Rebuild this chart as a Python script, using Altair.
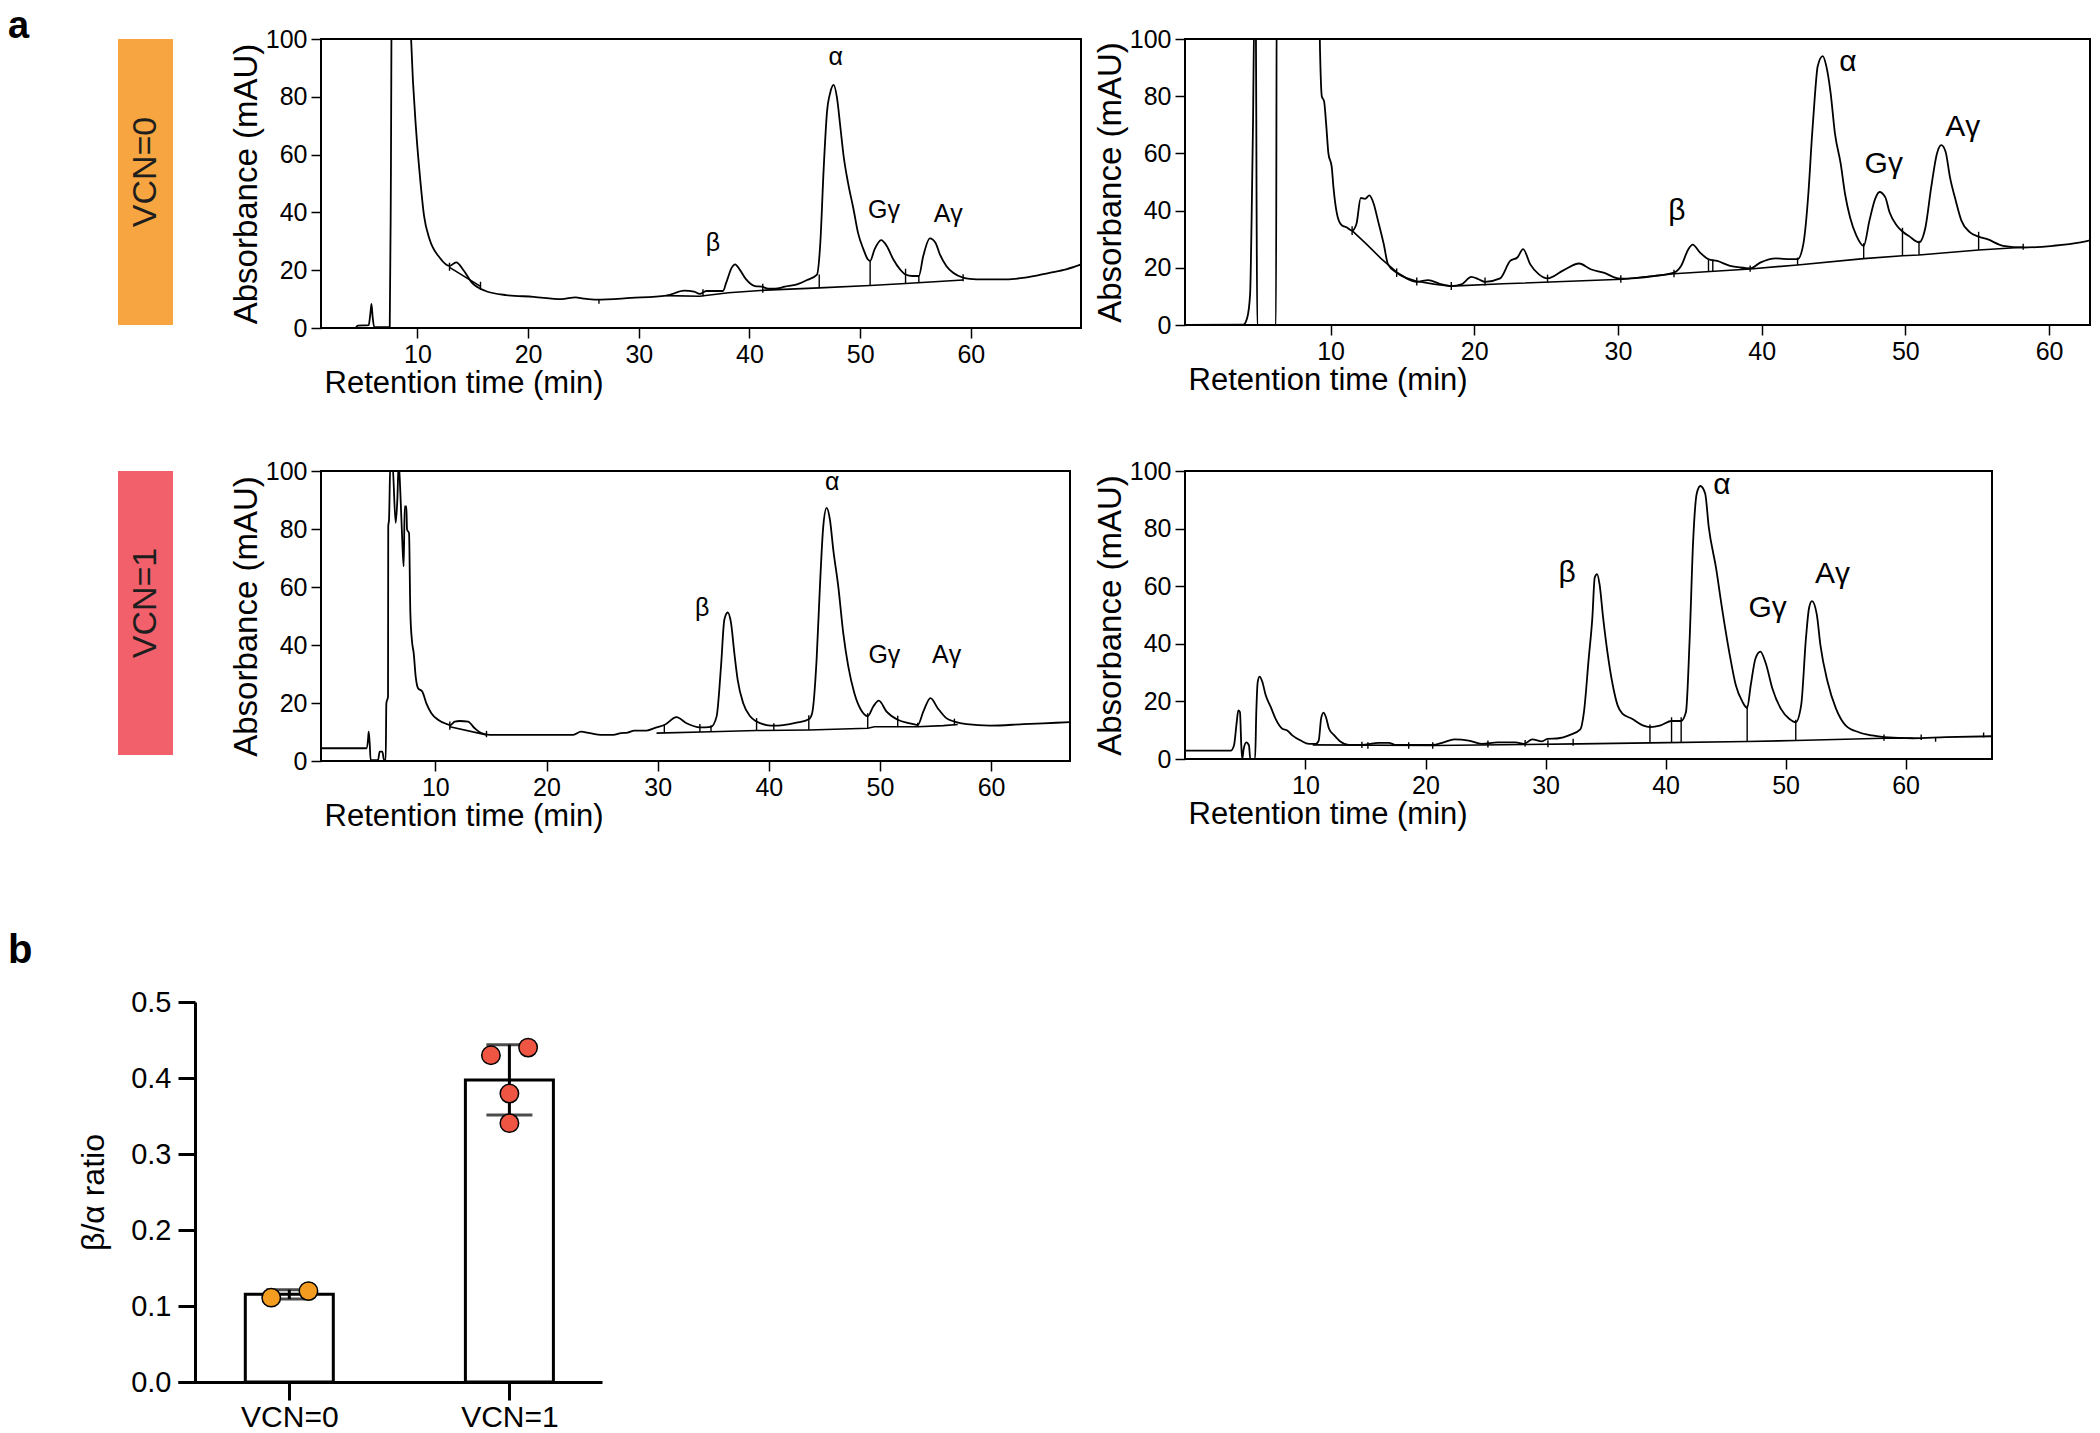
import altair as alt
import pandas as pd

FONT = "Liberation Sans"
ORANGE_BOX = "#F7A541"
RED_BOX = "#F2616B"
ORANGE_PT = "#F39C1F"
RED_PT = "#EE5542"

# ---------------- Panel a, top-left (VCN=0, sample 1) ----------------
P1_TRACE = [(1.29,0),(4.4,0),(4.6,0.8),(5.6,1.0),(5.75,5.0),(5.85,8.3),(5.95,4.0),(6.1,0.3),(7.5,0.3),(7.6,48.6),(7.7,130),(9.2,130),(9.43,100),(9.9,67.5),(10.2,53.7),(10.6,38.8),(11.1,30.7),(12.0,24.4),(12.9,21.5),(13.5,22.7),(14.2,19.8),(14.9,15.8),(16.1,12.9),(18.0,11.4),(20.5,10.8),(23.0,10.0),(24.3,10.6),(25.0,10.2),(26.2,9.8),(29.3,10.4),(32.5,11.2),(34.1,12.9),(35.0,12.6),(35.5,11.8),(36.1,12.8),(37.6,12.8),(37.9,15.7),(38.4,20.9),(38.7,22.0),(39.1,20.3),(39.7,16.8),(40.5,14.5),(41.1,14.3),(41.7,13.6),(42.3,13.6),(43.2,14.3),(44.3,15.1),(45.2,16.6),(46.1,18.5),(46.4,29.5),(46.7,54.9),(47.0,74.6),(47.3,81.5),(47.6,84.1),(47.9,79.8),(48.2,69.9),(48.5,59.6),(48.9,50.3),(49.4,41.1),(49.8,33.0),(50.3,27.2),(50.7,23.7),(50.9,23.2),(51.3,27.2),(51.9,30.4),(52.4,28.4),(53.0,23.7),(53.6,20.3),(54.1,18.5),(54.7,18.0),(55.3,18.0),(55.7,24.9),(56.3,31.0),(56.8,29.5),(57.2,25.5),(57.8,21.4),(58.4,19.1),(59.3,17.4),(59.9,17.0),(61.1,16.8),(62.6,16.8),(64.9,17.4),(67.1,19.1),(68.6,20.3),(69.95,22.0)]
P1_BASE = [(0,12.9,21.0),(0,15.7,14.4),(1,32.5,11.2),(1,35.5,11.0),(1,38.1,12.2),(1,41.5,13.1),(1,46.3,13.9),(1,50.9,14.7),(1,54.1,15.4),(1,59.3,16.6)]
P1_DROPS = [(12.9,19.8,22.6),(15.7,13.2,16.0),(26.4,8.4,10.0),(35.8,11.0,13.4),(41.2,12.2,15.3),(46.3,13.9,18.5),(50.9,14.7,23.2),(54.1,15.4,20.5),(55.3,15.7,18.2),(59.3,16.2,18.6)]
P1_LABELS = [("β",36.7,29.5),("α",47.8,93.6),("Gγ",52.15,40.7),("Aγ",57.96,39.3)]

# ---------------- Panel a, top-right (VCN=0, sample 2) ----------------
P2_TRACE = [(-0.13,0),(3.93,0.1),(4.2,2.5),(4.4,10.7),(4.5,35.3),(4.6,69.4),(4.7,110),(4.8,110),(4.85,43.7),(4.9,0),(6.2,0),(6.26,130),(9.15,130),(9.27,95.2),(9.39,80),(9.55,78.2),(9.69,70.5),(9.85,60),(10.08,55.3),(10.2,48.2),(10.3,43.6),(10.5,37.7),(10.8,34.8),(11.1,34.2),(11.5,33.0),(11.8,35.3),(12.1,44.4),(12.4,44.1),(12.7,45.3),(13.0,42.4),(13.3,36.5),(13.7,28.3),(14.0,21.2),(14.6,18.3),(15.1,16.8),(16.0,15.1),(16.8,15.7),(17.6,14.4),(18.4,13.6),(19.1,14.2),(19.8,16.8),(20.3,16.0),(20.75,15.1),(21.8,16.3),(22.5,22.4),(23.0,23.6),(23.4,26.5),(23.9,21.2),(24.5,17.7),(25.1,16.3),(26.2,19.1),(27.3,21.5),(28.1,19.5),(29.0,18.3),(30.15,16.2),(32.5,17.1),(33.9,18.3),(34.4,20.7),(34.9,26.5),(35.2,28.1),(35.7,25.4),(36.3,23.0),(36.9,22.4),(37.8,20.7),(38.5,20.1),(39.2,19.8),(39.9,21.8),(41.0,23.3),(42.0,23.0),(42.5,23.0),(42.9,28.3),(43.25,45.9),(43.5,65.8),(43.7,79.9),(43.9,90.5),(44.25,94.0),(44.5,90.5),(44.8,81.1),(45.1,67.0),(45.5,56.4),(45.8,45.9),(46.15,37.7),(46.6,31.2),(47.1,27.7),(47.5,36.5),(47.9,44.1),(48.2,46.5),(48.6,44.7),(48.9,39.4),(49.4,34.8),(49.8,32.7),(50.3,30.9),(50.95,28.9),(51.4,34.2),(51.8,48.2),(52.2,60.0),(52.5,62.9),(52.8,60.6),(53.1,51.8),(53.5,43.6),(53.9,36.5),(54.5,32.4),(55.1,30.9),(55.7,30.0),(56.8,27.7),(58.2,27.1),(60.3,27.7),(62.2,28.9),(62.85,29.6)]
P2_BASE = [(0,11.5,33.0),(0,12.5,28.3),(0,13.5,23.3),(0,14.6,18.5),(0,15.3,16.4),(0,16.0,15.3),(0,17.2,14.3),(0,18.4,13.6),(0,22.0,14.4),(0,30.3,16.0),(0,33.9,17.9),(0,39.2,19.6),(0,42.5,21.0),(0,47.1,23.2),(0,49.8,24.2),(0,50.95,24.5),(0,55.1,26.2),(0,58.2,27.2)]
P2_DROPS = [(11.5,31.5,34.5),(14.6,16.8,19.8),(16.0,13.8,16.6),(18.4,12.2,15.0),(20.75,13.8,16.6),(25.1,14.8,17.6),(30.2,14.8,17.4),(33.9,16.7,19.3),(36.3,18.6,23.2),(36.6,18.7,22.9),(39.2,18.6,20.8),(42.5,21.0,23.6),(47.1,23.2,28.6),(49.8,24.2,34.0),(50.95,24.5,29.5),(55.1,26.2,32.6),(58.2,26.3,28.4)]
P2_LABELS = [("β",34.1,40.0),("α",46.0,91.9),("Gγ",48.5,56.4),("Aγ",54.0,69.4)]

# ---------------- Panel a, bottom-left (VCN=1, sample 1) ----------------
P3_TRACE = [(-0.29,4.4),(3.79,4.4),(3.94,7.3),(4.0,10.1),(4.09,6.1),(4.18,0.3),(4.84,0.3),(4.99,3.2),(5.23,3.2),(5.38,0.3),(5.53,0.3),(5.59,19.9),(5.74,22.2),(5.76,80.9),(5.83,83.2),(5.95,103),(6.13,103),(6.43,82.1),(6.58,90.2),(6.7,103),(6.85,92.5),(7.03,75.2),(7.15,67.1),(7.24,87.8),(7.39,87.8),(7.45,79.8),(7.63,78.6),(7.75,51.0),(7.9,41.2),(8.05,37.2),(8.23,29.1),(8.44,25.1),(8.83,23.9),(9.19,19.9),(9.64,16.5),(10.24,14.2),(10.99,12.8),(11.35,12.4),(11.74,13.6),(12.19,13.8),(12.94,13.6),(13.54,11.3),(14.14,9.6),(14.89,9.0),(22.4,9.0),(23.1,10.1),(23.9,9.6),(24.9,9.0),(26.0,9.0),(26.7,9.6),(27.3,9.8),(27.9,10.5),(29.0,10.5),(29.9,11.6),(30.6,12.4),(31.7,15.1),(32.6,13.0),(33.8,11.6),(34.8,11.8),(35.3,15.3),(35.7,32.6),(36.0,48.7),(36.3,51.2),(36.6,47.6),(36.9,37.2),(37.2,28.0),(37.7,19.9),(38.3,15.5),(38.9,13.6),(39.8,12.4),(40.45,12.2),(41.3,12.4),(42.5,13.2),(43.6,14.4),(43.9,16.5),(44.3,34.9),(44.6,60.2),(44.9,80.9),(45.2,87.3),(45.5,83.2),(45.8,72.9),(46.25,60.2),(46.7,44.1),(47.15,32.6),(47.7,23.4),(48.3,17.6),(48.9,15.5),(49.4,18.8),(49.9,20.8),(50.6,17.0),(51.6,14.2),(52.7,13.0),(53.4,12.4),(53.9,17.0),(54.55,21.7),(55.2,18.2),(56.0,14.7),(56.7,13.6),(57.8,12.7),(59.9,12.2),(62.9,12.7),(64.7,13.0),(67.1,13.4)]
P3_BASE = [(0,11.3,11.8),(0,14.6,9.0),(1,29.9,9.6),(1,34.8,10.1),(1,38.9,10.5),(1,43.6,10.7),(1,48.9,11.3),(1,49.5,11.8),(1,53.4,11.8),(1,55.7,12.2),(1,57.0,12.6)]
P3_DROPS = [(11.3,10.8,13.6),(14.6,8.2,10.4),(30.6,9.7,12.6),(33.8,10.0,12.8),(34.8,10.1,12.3),(38.9,10.5,14.8),(40.45,10.6,13.0),(43.6,10.7,15.8),(48.9,11.3,16.5),(51.6,11.8,15.6),(53.4,11.8,13.2),(56.7,12.3,14.6)]
P3_LABELS = [("β",34.0,52.7),("α",45.7,96.1),("Gγ",50.4,36.6),("Aγ",56.0,36.6)]

# ---------------- Panel a, bottom-right (VCN=1, sample 2) ----------------
P4_TRACE = [(-0.04,2.9),(3.77,2.9),(4.04,4.7),(4.27,12.8),(4.4,16.9),(4.54,16.3),(4.65,4.7),(4.73,0),(4.85,3.5),(5.07,5.8),(5.29,4.7),(5.4,0),(5.8,0),(5.9,16.3),(6.02,26.8),(6.18,28.6),(6.4,26.8),(6.68,22.2),(7.1,18.1),(7.5,14.0),(8.07,10.5),(8.48,9.9),(8.9,8.2),(9.6,6.4),(10.3,5.25),(10.85,5.25),(11.1,6.4),(11.3,14.0),(11.5,16.1),(11.7,14.6),(11.96,10.5),(12.4,8.2),(12.9,6.1),(13.6,4.9),(14.7,4.9),(16.1,5.6),(16.95,5.6),(17.5,4.9),(20.6,4.9),(21.5,5.8),(22.4,6.8),(23.6,6.4),(24.7,5.25),(26.0,5.8),(27.5,5.8),(28.2,5.25),(28.9,6.8),(29.7,6.1),(30.15,7.0),(31.1,7.2),(31.95,8.2),(32.9,10.3),(33.2,16.3),(33.6,35.0),(33.9,49.0),(34.1,63.0),(34.3,64.2),(34.5,60.7),(34.8,49.0),(35.15,37.3),(35.6,25.7),(36.0,18.7),(36.4,15.75),(37.2,14.0),(38.1,11.7),(38.7,11.1),(39.6,11.7),(40.5,13.2),(41.3,13.2),(41.7,16.3),(42.0,40.8),(42.3,75.8),(42.6,92.2),(42.9,94.8),(43.3,92.2),(43.6,80.5),(44.2,66.5),(44.7,52.5),(45.3,37.3),(45.85,25.7),(46.4,19.9),(46.8,17.7),(47.1,25.7),(47.5,35.0),(47.9,37.3),(48.35,33.25),(48.9,24.5),(49.6,17.5),(50.3,14.0),(50.85,12.8),(51.3,18.7),(51.7,42.0),(51.96,52.5),(52.2,54.8),(52.6,50.2),(52.9,39.65),(53.5,26.8),(54.2,17.5),(55.0,11.7),(56.1,9.3),(57.2,8.2),(58.2,7.6),(60.6,7.2),(63.35,7.6),(67.2,7.9)]
P4_BASE = [(0,10.6,4.9),(0,20.7,4.7),(0,32.8,5.25),(0,38.7,5.6),(0,46.8,6.1),(0,50.85,6.4),(0,58.2,7.2),(0,60.6,7.2)]
P4_DROPS = [(14.7,3.8,6.0),(15.2,3.6,5.8),(18.6,3.6,5.8),(20.6,3.6,5.8),(25.2,4.0,6.4),(28.3,4.3,6.6),(30.2,4.1,6.5),(32.3,4.6,7.0),(38.7,5.6,12.0),(40.5,5.8,14.5),(41.3,5.9,14.5),(46.8,6.1,18.6),(50.85,6.4,13.6),(58.2,6.3,8.5),(61.3,6.6,8.5),(62.5,6.0,7.6),(66.5,7.5,9.2)]
P4_LABELS = [("β",31.8,64.75),("α",44.7,95.1),("Gγ",48.5,52.5),("Aγ",53.9,64.2)]

X_TICKS = [10, 20, 30, 40, 50, 60]
Y_TICKS = [0, 20, 40, 60, 80, 100]

# ---------------- Panel b ----------------
B_GROUPS = ["VCN=0", "VCN=1"]
B_POS = [0, 1]
PT_GROUP = ["VCN=0", "VCN=0", "VCN=1", "VCN=1", "VCN=1", "VCN=1"]
PT_JITTER = [-0.082, 0.087, -0.084, 0.085, 0.0, 0.0]
PT_VALUE = [0.111, 0.1196, 0.430, 0.440, 0.3795, 0.3406]
B_TICKS = [0, 0.1, 0.2, 0.3, 0.4, 0.5]


def spacer(w, h):
    return alt.Chart(pd.DataFrame({"z": [0]})).mark_rect(opacity=0).encode(
        x=alt.value(0), x2=alt.value(w), y=alt.value(0), y2=alt.value(h)
    ).properties(width=w, height=h)


def letter(ch, w, h, y, size):
    return alt.Chart(pd.DataFrame({"c": [ch]})).mark_text(
        font=FONT, fontSize=size, fontWeight="bold", align="left", baseline="top", color="black"
    ).encode(x=alt.value(0), y=alt.value(y), text="c:N").properties(width=w, height=h)


def vcn_box(label, color, w, h):
    df = pd.DataFrame({"lab": [label]})
    rect = alt.Chart(df).mark_rect(color=color).encode(
        x=alt.value(0), x2=alt.value(w), y=alt.value(0), y2=alt.value(h))
    txt = alt.Chart(df).mark_text(angle=270, fontSize=34, font=FONT, color="#1e1e1e").encode(
        x=alt.value(w / 2), y=alt.value(h / 2 - 10), text="lab:N")
    return alt.layer(rect, txt).properties(width=w, height=h)


def chrom(trace, base, drops, labels, dom, w, h, lbl_size):
    tr = pd.DataFrame(trace, columns=["t", "v"])
    bs = pd.DataFrame(base, columns=["seg", "t", "v"])
    dr = pd.DataFrame(drops, columns=["t", "lo", "hi"])
    lb = pd.DataFrame(labels, columns=["lbl", "t", "v"])
    xs = alt.Scale(domain=dom, nice=False, zero=False)
    ys = alt.Scale(domain=[0, 100], nice=False, zero=False)
    xax = alt.Axis(values=X_TICKS, title="Retention time (min)", grid=False, domain=False,
                   tickSize=10, tickWidth=1.5, tickColor="black", labelFontSize=25,
                   labelPadding=4, titleFontSize=31, titleFontWeight="normal",
                   titleAnchor="start", titleAlign="left", titleX=3, titlePadding=1)
    yax = alt.Axis(values=Y_TICKS, title="Absorbance (mAU)", grid=False, domain=False,
                   tickSize=10, tickWidth=1.5, tickColor="black", labelFontSize=25,
                   labelPadding=4, titleFontSize=33, titleFontWeight="normal", titlePadding=2)
    X = alt.X("t:Q", scale=xs, axis=xax)
    Y = alt.Y("v:Q", scale=ys, axis=yax)
    line = alt.Chart(tr).mark_line(color="black", strokeWidth=1.8, interpolate="monotone",
                                   clip=True).encode(x=X, y=Y)
    bline = alt.Chart(bs).mark_line(color="black", strokeWidth=1.6, clip=True).encode(
        x=X, y=Y, detail="seg:N")
    rules = alt.Chart(dr).mark_rule(color="black", strokeWidth=1.4).encode(
        x=X, y=alt.Y("lo:Q", scale=ys, axis=yax), y2="hi:Q")
    text = alt.Chart(lb).mark_text(fontSize=lbl_size, font=FONT, color="black").encode(
        x=X, y=Y, text="lbl:N")
    return alt.layer(line, bline, rules, text).properties(
        width=w, height=h, view=alt.ViewBackground(stroke="black", strokeWidth=2, fill="white"))


p1 = chrom(P1_TRACE, P1_BASE, P1_DROPS, P1_LABELS, [1.29, 69.95], 760, 289, 25)
p2 = chrom(P2_TRACE, P2_BASE, P2_DROPS, P2_LABELS, [-0.13, 62.85], 905, 286, 30)
p3 = chrom(P3_TRACE, P3_BASE, P3_DROPS, P3_LABELS, [-0.29, 67.1], 749, 290, 25)
p4 = chrom(P4_TRACE, P4_BASE, P4_DROPS, P4_LABELS, [-0.04, 67.2], 807, 288, 30)

row0 = [letter("a", 110, 31, 0, 38)] + [spacer(1, 1) for _ in range(5)]
row1 = [spacer(110, 1), vcn_box("VCN=0", ORANGE_BOX, 55, 286), spacer(148, 1), p1, spacer(104, 1), p2]
rowgap = [spacer(1, 143)] + [spacer(1, 1) for _ in range(5)]
row2 = [spacer(1, 1), vcn_box("VCN=1", RED_BOX, 55, 284), spacer(1, 1), p3, spacer(1, 1), p4]
top = alt.concat(*(row0 + row1 + rowgap + row2), columns=6, align="each", bounds="flush", spacing=0)

# panel b
pts = pd.DataFrame({"grp": PT_GROUP, "jit": PT_JITTER, "val": PT_VALUE})
pts["pos"] = pts["grp"].map(dict(zip(B_GROUPS, B_POS)))
pts["x"] = pts["pos"] + pts["jit"]
stats = pts.groupby(["grp", "pos"])["val"].agg(["mean", "std"]).reset_index()
stats = stats.rename(columns={"mean": "m", "std": "sd"})
stats["lo"] = stats["m"] - stats["sd"]
stats["hi"] = stats["m"] + stats["sd"]

xsb = alt.Scale(domain=[-0.483, 1.398], nice=False, zero=False)
ysb = alt.Scale(domain=[0, 0.5], nice=False)
xb_axis = alt.Axis(values=B_POS, labelExpr="datum.value == 0 ? 'VCN=0' : 'VCN=1'", title=None,
                   grid=False, domainWidth=3, domainColor="black", tickSize=18, tickWidth=3,
                   tickColor="black", labelFontSize=30, labelPadding=2)
yb_axis = alt.Axis(values=B_TICKS, format=".1f", title="β/α ratio", titleFontSize=32,
                   titleFontWeight="normal", titlePadding=20, grid=False, domainWidth=3,
                   domainColor="black", tickSize=17, tickWidth=3, tickColor="black",
                   labelFontSize=29, labelPadding=7, offset=-17)
XB = alt.X("pos:Q", scale=xsb, axis=xb_axis)
bars = alt.Chart(stats).mark_bar(size=88, fill="white", stroke="black", strokeWidth=3).encode(
    x=XB, y=alt.Y("m:Q", scale=ysb, axis=yb_axis))
err = alt.Chart(stats).mark_rule(color="black", strokeWidth=3).encode(
    x=XB, y=alt.Y("lo:Q", scale=ysb, axis=yb_axis), y2="hi:Q")
cap_lo = alt.Chart(stats).mark_tick(orient="horizontal", size=46, thickness=3, color="black").encode(
    x=XB, y=alt.Y("lo:Q", scale=ysb, axis=yb_axis))
cap_hi = alt.Chart(stats).mark_tick(orient="horizontal", size=46, thickness=3, color="black").encode(
    x=XB, y=alt.Y("hi:Q", scale=ysb, axis=yb_axis))
dots = alt.Chart(pts).mark_circle(size=340, stroke="black", strokeWidth=1.5, opacity=1).encode(
    x=alt.X("x:Q", scale=xsb, axis=xb_axis), y=alt.Y("val:Q", scale=ysb, axis=yb_axis),
    fill=alt.Fill("grp:N", scale=alt.Scale(domain=B_GROUPS, range=[ORANGE_PT, RED_PT]), legend=None))
panel_b = alt.layer(bars, err, cap_lo, cap_hi, dots).properties(width=424, height=380)

bottom = alt.concat(letter("b", 170, 1, -71, 40), panel_b, columns=2, align="each", bounds="flush", spacing=0)

chart = alt.vconcat(top, bottom, spacing=99).properties(padding=0, background="white").configure(
    font=FONT).configure_view(stroke=None).configure_axis(
    labelFont=FONT, titleFont=FONT, labelColor="black", titleColor="black")

chart.save("out.html", embed_options={"renderer": "svg", "actions": False})
